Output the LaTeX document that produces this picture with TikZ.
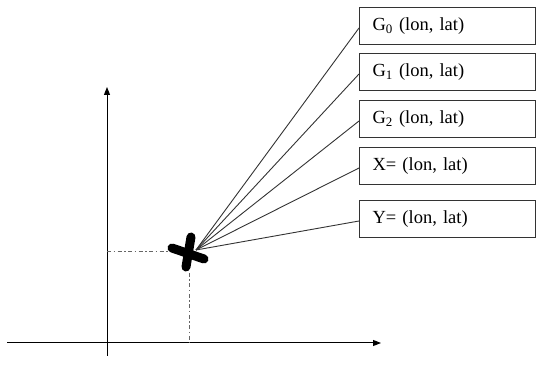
\documentclass[tikz,border=0pt]{standalone}
\usepackage{fontspec}
\setmainfont{Liberation Serif}
\usetikzlibrary{arrows.meta}
\begin{document}
\begin{tikzpicture}[x=1pt,y=-1pt,
  infobox/.style={draw=black!80, line width=1pt, anchor=north west,
    minimum height=37pt, text width=150pt, inner xsep=13pt, inner ysep=0pt,
    align=left, font=\fontsize{18.5}{20}\selectfont},
  axis/.style={line width=1pt, -{Triangle[length=8pt,width=6pt]}},
  guide/.style={draw=black!60, line width=1pt, dash pattern=on 4pt off 2.5pt on 1.5pt off 2.5pt},
  ray/.style={draw=black!80, line width=0.9pt},
  cross/.style={line width=9pt, line cap=round, black}]
\useasboundingbox (0,0) rectangle (539,366);
% axes
\coordinate (xs) at (7,343);
\coordinate (xe) at (381,343);
\coordinate (ys) at (107,356);
\coordinate (ye) at (107,87);
\draw[axis] (xs) -- (xe);
\draw[axis] (ys) -- (ye);
% point
\coordinate (c) at (196,250);
\coordinate (hy) at (107,252);
\coordinate (hx) at (170,252);
\coordinate (vt) at (189,273);
\coordinate (vb) at (189,343);
\draw[guide] (hy) -- (hx);
\draw[guide] (vt) -- (vb);
% boxes
\node[infobox] (g0) at (359,7) {G\textsubscript{0} (lon, lat)};
\node[infobox] (g1) at (359,53) {G\textsubscript{1} (lon, lat)};
\node[infobox] (g2) at (359,100) {G\textsubscript{2} (lon, lat)};
\node[infobox] (gx) at (359,147) {X= (lon, lat)};
\node[infobox] (gy) at (359,200) {Y= (lon, lat)};
\foreach \b in {g0,g1,g2,gx,gy} {
  \draw[ray] (c) -- ([yshift=-2pt]\b.west);
}
% marker
\coordinate (m1) at (191,237);
\coordinate (m2) at (186,267);
\coordinate (m3) at (172,248);
\coordinate (m4) at (204,259);
\draw[cross] (m1) -- (m2);
\draw[cross] (m3) -- (m4);
\end{tikzpicture}
\end{document}
